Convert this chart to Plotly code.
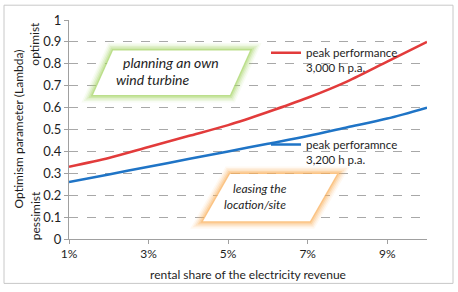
import plotly.graph_objects as go

# ---- data ----
share_pct = [1, 2, 3, 4, 5, 6, 7, 8, 9, 10]
lambda_3000 = [0.33, 0.37, 0.42, 0.47, 0.52, 0.58, 0.645, 0.72, 0.81, 0.90]
lambda_3200 = [0.26, 0.295, 0.33, 0.365, 0.40, 0.435, 0.47, 0.51, 0.55, 0.60]
x_tick_vals = [1, 3, 5, 7, 9]
x_tick_text = ["1%", "3%", "5%", "7%", "9%"]
y_tick_vals = [0, 0.1, 0.2, 0.3, 0.4, 0.5, 0.6, 0.7, 0.8, 0.9, 1]
y_tick_text = ["0", "0.1", "0.2", "0.3", "0.4", "0.5", "0.6", "0.7", "0.8", "0.9", "1"]

W, H = 458, 292
L, R, T, B = 69, 427, 19, 241   # plot area in pixels
FONT = "Lato"
TXT = "#1e1e1e"

def px(x):
    return (x - L) / (R - L)

def py(y):
    return (B - y) / (B - T)

def para(pts):
    return "M " + " L ".join(f"{px(a):.4f},{py(b):.4f}" for a, b in pts) + " Z"

fig = go.Figure()
fig.add_trace(go.Scatter(x=share_pct, y=lambda_3000, mode="lines",
                         line=dict(color="#e23b3b", width=2.5, shape="spline", smoothing=0.8),
                         name="peak performance<br>3,000 h p.a.", legend="legend"))
fig.add_trace(go.Scatter(x=share_pct, y=lambda_3200, mode="lines",
                         line=dict(color="#1f74c6", width=2.5, shape="spline", smoothing=0.8),
                         name="peak perforamnce<br>3,200 h p.a.", legend="legend2"))

shapes = []
# outer border
shapes.append(dict(type="rect", xref="paper", yref="paper",
                   x0=px(4), x1=px(453), y0=py(286), y1=py(4),
                   line=dict(color="#c8c8c8", width=1), layer="below"))
# glowing parallelograms
green = [(113, 50), (250, 50), (230, 95), (93, 95)]
orange = [(230, 175), (337, 175), (310, 223), (203, 223)]
for pts, rgb in ((green, "165,212,100"), (orange, "250,175,90")):
    path = para(pts)
    for w, a in ((15, 0.08), (12, 0.12), (9, 0.18), (6, 0.28), (3, 0.45)):
        shapes.append(dict(type="path", path=path, xref="paper", yref="paper",
                           fillcolor="rgba(0,0,0,0)",
                           line=dict(color=f"rgba({rgb},{a})", width=w), layer="above"))
    shapes.append(dict(type="path", path=path, xref="paper", yref="paper",
                       fillcolor="white", line=dict(width=0), layer="above"))

def ann(text, x, y, size=12, angle=0):
    return dict(text=text, x=px(x), y=py(y), xref="paper", yref="paper",
                xanchor="center", yanchor="middle", showarrow=False, textangle=angle,
                align="center", font=dict(family=FONT, size=size, color=TXT))

annotations = [
    ann("<i>planning an own</i>", 171, 62, 14),
    ann("<i>wind turbine</i>", 153, 79, 14),
    ann("<i>leasing the</i>", 260, 190, 12),
    ann("<i>location/site</i>", 255, 206, 12),
    ann("Optimism parameter (Lambda)", 18, 130, 12, -90),
    ann("optimist", 35, 43, 12, -90),
    ann("pessimist", 35, 218, 12, -90),
]

fig.update_layout(
    width=W, height=H,
    margin=dict(l=L, r=W - R, t=T, b=H - B, pad=0),
    paper_bgcolor="white", plot_bgcolor="white",
    font=dict(family=FONT, size=12, color=TXT),
    shapes=shapes, annotations=annotations,
    showlegend=True,
    legend=dict(x=px(266), y=py(38), xanchor="left", yanchor="top", valign="top",
                bgcolor="rgba(0,0,0,0)", font=dict(family=FONT, size=11.5, color=TXT)),
    legend2=dict(x=px(266), y=py(131), xanchor="left", yanchor="top", valign="top",
                 bgcolor="rgba(0,0,0,0)", font=dict(family=FONT, size=11.5, color=TXT)),
    xaxis=dict(range=[1, 10], tickvals=x_tick_vals, ticktext=x_tick_text,
               showgrid=False, zeroline=False, showline=True, linecolor="#a0a0a0",
               ticks="outside", ticklen=4, tickcolor="#a0a0a0",
               tickfont=dict(family=FONT, size=12),
               title=dict(text="rental share of the electricity revenue",
                          font=dict(family=FONT, size=12), standoff=10)),
    yaxis=dict(range=[0, 1], tickvals=y_tick_vals, ticktext=y_tick_text,
               showgrid=True, gridcolor="#a8a8a8", griddash="dash", gridwidth=1,
               zeroline=False, showline=True, linecolor="#a0a0a0",
               ticks="outside", ticklen=4, tickcolor="#a0a0a0",
               tickfont=dict(family=FONT, size=13)),
)

fig.write_html("out.html", config={"displayModeBar": False},
               post_script="document.body.style.margin='0';")
